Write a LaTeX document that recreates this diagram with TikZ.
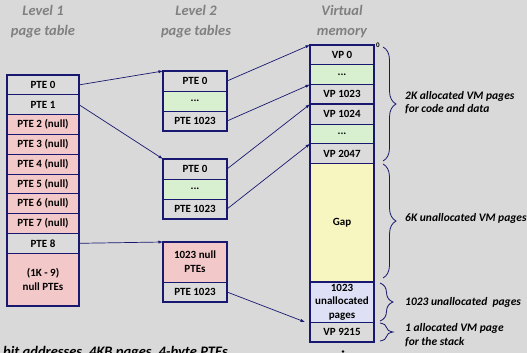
\documentclass[tikz,border=0pt]{standalone}
\usepackage{fontspec}
\setmainfont{Carlito}
\usetikzlibrary{arrows.meta,decorations.pathreplacing}
\definecolor{bg}{RGB}{217,217,217}
\definecolor{navy}{RGB}{24,24,112}
\definecolor{cellgray}{RGB}{219,219,219}
\definecolor{pinkc}{RGB}{243,200,200}
\definecolor{greenc}{RGB}{216,240,208}
\definecolor{yellowc}{RGB}{248,246,192}
\definecolor{lavc}{RGB}{222,224,245}
\definecolor{hdr}{RGB}{128,128,128}
\begin{document}
\begin{tikzpicture}[x=1pt,y=-1pt,
  cell/.style={draw=navy, line width=0.7pt, anchor=north west, inner sep=0pt, outer sep=0pt,
    align=center, font=\bfseries\fontsize{11}{14}\selectfont, text=black},
  l1/.style={cell, minimum width=72pt, minimum height=19.8pt},
  l2/.style={cell, minimum width=64pt, minimum height=20pt},
  vm/.style={cell, minimum width=64pt, minimum height=19.75pt},
  frame/.style={draw=navy, line width=1.7pt},
  arr/.style={draw=navy, line width=0.7pt, -{Latex[length=4.5pt,width=3.2pt]}},
  brc/.style={draw=navy, line width=0.8pt, decorate, decoration={brace, amplitude=13pt}},
  hdrtxt/.style={text=hdr, font=\bfseries\itshape\fontsize{14.5}{20}\selectfont, align=center, inner sep=0pt},
  note/.style={anchor=west, font=\bfseries\itshape\fontsize{11.5}{13.5}\selectfont, align=left, inner sep=0pt}
]
\fill[bg] (0,0) rectangle (527,353);
\useasboundingbox (0,0) rectangle (527,353);

% headers
\node[hdrtxt] (h1) at (43,21.5) {Level 1\\page table};
\node[hdrtxt] (h2) at (196,21.5) {Level 2\\page tables};
\node[hdrtxt] (h3) at (342,21.5) {Virtual\\memory};

% level 1 table
\node[l1, fill=cellgray] (a0) at (7,75) {PTE 0};
\node[l1, fill=cellgray] (a1) at (7,94.8) {PTE 1};
\node[l1, fill=pinkc] (a2) at (7,114.6) {PTE 2 (null)};
\node[l1, fill=pinkc] (a3) at (7,134.4) {PTE 3 (null)};
\node[l1, fill=pinkc] (a4) at (7,154.2) {PTE 4 (null)};
\node[l1, fill=pinkc] (a5) at (7,174) {PTE 5 (null)};
\node[l1, fill=pinkc] (a6) at (7,193.8) {PTE 6 (null)};
\node[l1, fill=pinkc] (a7) at (7,213.6) {PTE 7 (null)};
\node[l1, fill=cellgray] (a8) at (7,233.4) {PTE 8};
\node[l1, fill=pinkc, minimum height=53pt] (a9) at (7,253.2) {(1K - 9)\\null PTEs};
\draw[frame] (a0.north west) rectangle (a9.south east);

% level 2 tables
\node[l2, fill=cellgray] (b0) at (163,71) {PTE 0};
\node[l2, fill=greenc] (b1) at (163,91) {...};
\node[l2, fill=cellgray] (b2) at (163,111) {PTE 1023};
\draw[frame] (b0.north west) rectangle (b2.south east);

\node[l2, fill=cellgray] (c0) at (163,159) {PTE 0};
\node[l2, fill=greenc] (c1) at (163,179) {...};
\node[l2, fill=cellgray] (c2) at (163,199) {PTE 1023};
\draw[frame] (c0.north west) rectangle (c2.south east);

\node[l2, fill=pinkc, minimum height=40pt] (d0) at (163,242) {1023 null\\PTEs};
\node[l2, fill=cellgray] (d1) at (163,282) {PTE 1023};
\draw[frame] (d0.north west) rectangle (d1.south east);

% virtual memory
\node[vm, fill=cellgray] (v0) at (310,45) {VP 0};
\node[vm, fill=greenc] (v1) at (310,64.75) {...};
\node[vm, fill=cellgray] (v2) at (310,84.5) {VP 1023};
\draw[frame] (v0.north west) rectangle (v2.south east);
\node[vm, fill=cellgray] (v3) at (310,104.25) {VP 1024};
\node[vm, fill=greenc] (v4) at (310,124) {...};
\node[vm, fill=cellgray] (v5) at (310,143.75) {VP 2047};
\draw[frame] (v3.north west) rectangle (v5.south east);
\node[vm, fill=yellowc, minimum height=118.5pt] (v6) at (310,163.5) {Gap};
\draw[frame] (v6.north west) rectangle (v6.south east);
\node[vm, fill=lavc, minimum height=40pt, font=\bfseries\fontsize{11}{13.5}\selectfont] (v7) at (310,282) {1023\\unallocated\\pages};
\node[vm, fill=cellgray] (v9) at (310,322) {VP 9215};
\draw[frame] (v7.north west) rectangle (v9.south east);

\node[font=\bfseries\fontsize{7}{8}\selectfont, inner sep=0pt] (zero) at (378,45) {0};

% arrows
\coordinate (vend) at ([xshift=-5pt]v9.north west);
\draw[arr] (a0.east) -- (b0.north west);
\draw[arr] (a1.east) -- (c0.north west);
\draw[arr] (a8.east) -- (d0.north west);
\draw[arr] (b0.east) -- (v0.north west);
\draw[arr] (b2.east) -- (v2.north west);
\draw[arr] (c0.east) -- (v3.north west);
\draw[arr] (c2.east) -- (v5.north west);
\draw[arr] (d1.east) -- (vend);

% braces
\draw[brc] (383,47) -- (383,161);
\draw[brc] (383,164) -- (383,278);
\draw[brc] (380,283) -- (380,321);
\draw[brc] (380,323) -- (380,341);

\node[note] (n1) at (405,102.5) {2K allocated VM pages\\for code and data};
\node[note] (n2) at (405,218) {6K unallocated VM pages};
\node[note] (n3) at (405,302) {1023 unallocated\ \ pages};
\node[note] (n4) at (405,335) {1 allocated VM page\\for the stack};

% bottom (cut off, as in the reference)
\node[anchor=base west, inner sep=0pt, font=\bfseries\itshape\fontsize{14.5}{17}\selectfont] (foot) at (3,356.5) {bit addresses, 4KB pages, 4-byte PTEs};
\fill[black] (343,351.5) circle (1.3pt);
\end{tikzpicture}
\end{document}
